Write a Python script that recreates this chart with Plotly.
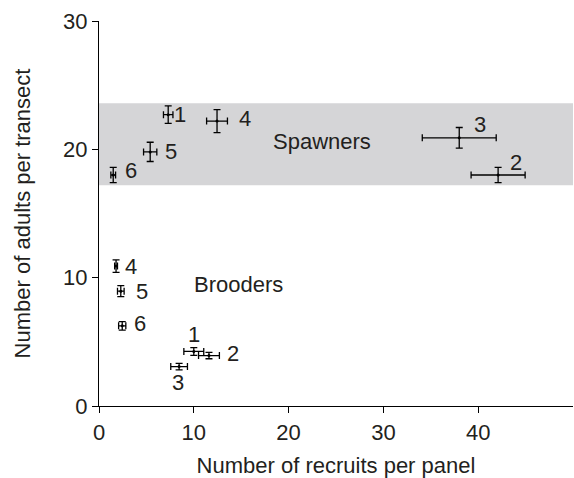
import plotly.graph_objects as go

# Spawners
sp_labels = ["1", "2", "3", "4", "5", "6"]
sp_x = [7.3, 42.1, 38.0, 12.45, 5.4, 1.5]
sp_y = [22.7, 18.0, 20.9, 22.2, 19.8, 18.0]
sp_xerr = [0.5, 2.85, 3.9, 1.1, 0.7, 0.25]
sp_yerr = [0.68, 0.6, 0.8, 0.9, 0.75, 0.6]
sp_lab_dx = [12, 18, 21, 28, 21, 18]
sp_lab_dy = [0, 13, 13, 3, 0, 5]

# Brooders
br_labels = ["1", "2", "3", "4", "5", "6"]
br_x = [10.0, 11.6, 8.45, 1.8, 2.3, 2.45]
br_y = [4.25, 3.93, 3.07, 10.9, 8.95, 6.25]
br_xerr = [1.05, 1.1, 0.88, 0.15, 0.35, 0.38]
br_yerr = [0.3, 0.25, 0.25, 0.48, 0.43, 0.33]
br_lab_dx = [0, 24, -1, 15, 21, 18]
br_lab_dy = [17, 2, -16, 0, 0, 2]

spawn_band = [17.2, 23.6]
group_names = ["Spawners", "Brooders"]
group_pos = [(23.5, 20.6), (14.7, 9.45)]

FONT = "Liberation Sans, Arial, sans-serif"
TXT = "#231f20"
FS = 22

fig = go.Figure()

def add_group(x, y, xe, ye):
    fig.add_trace(go.Scatter(
        x=x, y=y, mode="markers",
        marker=dict(size=3, color="black"),
        error_x=dict(type="data", array=xe, color="black", thickness=1.3, width=3.5),
        error_y=dict(type="data", array=ye, color="black", thickness=1.3, width=3.5),
        showlegend=False, hoverinfo="skip"))

add_group(sp_x, sp_y, sp_xerr, sp_yerr)
add_group(br_x, br_y, br_xerr, br_yerr)

ann = []
for labs, xs, ys, dxs, dys in [(sp_labels, sp_x, sp_y, sp_lab_dx, sp_lab_dy),
                               (br_labels, br_x, br_y, br_lab_dx, br_lab_dy)]:
    for l, x, y, dx, dy in zip(labs, xs, ys, dxs, dys):
        ann.append(dict(x=x, y=y, text=l, showarrow=False, xshift=dx, yshift=dy,
                        font=dict(family=FONT, size=FS, color=TXT)))
for name, (gx, gy) in zip(group_names, group_pos):
    ann.append(dict(x=gx, y=gy, text=name, showarrow=False,
                    font=dict(family=FONT, size=FS, color=TXT)))

fig.add_shape(type="rect", xref="x", yref="y", x0=0, x1=50,
              y0=spawn_band[0], y1=spawn_band[1],
              fillcolor="#d5d5d7", line=dict(width=0), layer="below")

fig.update_layout(
    width=574, height=478, autosize=False,
    margin=dict(l=99, r=1, t=21, b=72),
    paper_bgcolor="white", plot_bgcolor="white",
    font=dict(family=FONT, size=FS, color=TXT),
    annotations=ann,
    xaxis=dict(range=[0, 50], tickvals=[0, 10, 20, 30, 40], showgrid=False,
               zeroline=False, showline=True, linecolor="black", linewidth=1.3,
               ticks="outside", ticklen=6, tickcolor="black", tickwidth=1.3,
               automargin=False,
               title=dict(text="Number of recruits per panel", standoff=18,
                          font=dict(size=FS)),
               tickfont=dict(size=FS)),
    yaxis=dict(range=[0, 30], tickvals=[0, 10, 20, 30], showgrid=False,
               zeroline=False, showline=True, linecolor="black", linewidth=1.3,
               ticks="outside", ticklen=6, tickcolor="black", tickwidth=1.3,
               automargin=False,
               title=dict(text="Number of adults per transect", standoff=26,
                          font=dict(size=FS)),
               tickfont=dict(size=FS)),
)

fig.write_html("out.html", config={"displayModeBar": False},
               post_script="document.body.style.margin='0';document.body.style.overflow='hidden';")
